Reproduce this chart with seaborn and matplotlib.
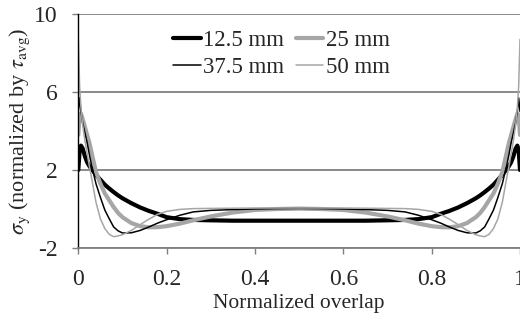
import numpy as np
import pandas as pd
import matplotlib
matplotlib.use("Agg")
import matplotlib.pyplot as plt
import seaborn as sns

# ---- data ----
x_pos = [0, 0.003, 0.006, 0.01, 0.015, 0.02, 0.025, 0.03, 0.04, 0.05, 0.06, 0.07,
         0.08, 0.09, 0.1, 0.12, 0.14, 0.16, 0.18, 0.2, 0.23, 0.26, 0.3, 0.35, 0.4,
         0.45, 0.5,
         0.55, 0.6, 0.65, 0.7, 0.74, 0.77, 0.8, 0.82, 0.84, 0.86, 0.88, 0.9, 0.91,
         0.92, 0.93, 0.94, 0.95, 0.96, 0.97, 0.975, 0.98, 0.985, 0.99, 0.994,
         0.997, 1.0]

s_125 = [2.0, 3.0, 3.25, 3.1, 2.7, 2.4, 2.2, 2.05, 1.75, 1.5, 1.25, 1.05,
         0.87, 0.7, 0.55, 0.3, 0.08, -0.1, -0.25, -0.42, -0.52, -0.56, -0.58, -0.6, -0.6,
         -0.6, -0.6,
         -0.6, -0.6, -0.6, -0.58, -0.56, -0.52, -0.42, -0.25, -0.1, 0.08, 0.3, 0.55, 0.7,
         0.87, 1.05, 1.25, 1.5, 1.75, 2.05, 2.2, 2.4, 2.7, 3.1, 3.25,
         3.0, 2.0]

s_25 = [3.8, 4.8, 4.9, 4.6, 4.2, 3.8, 3.4, 2.9, 1.9, 1.3, 0.8, 0.45,
        0.1, -0.2, -0.42, -0.72, -0.88, -0.94, -0.93, -0.88, -0.75, -0.58, -0.38, -0.18, -0.05,
        0.0, 0.02,
        0.0, -0.05, -0.18, -0.38, -0.58, -0.75, -0.88, -0.93, -0.94, -0.88, -0.72, -0.42, -0.2,
        0.1, 0.45, 0.8, 1.3, 1.9, 2.9, 3.4, 3.8, 4.2, 4.6, 4.9,
        4.8, 3.8]

s_375 = [5.0, 5.7, 5.0, 4.4, 3.9, 3.4, 2.8, 2.25, 1.3, 0.6, -0.05, -0.5,
         -0.92, -1.12, -1.23, -1.22, -1.1, -0.92, -0.72, -0.55, -0.32, -0.15, -0.07, -0.03, 0.0,
         0.02, 0.03,
         0.02, 0.0, -0.03, -0.07, -0.15, -0.32, -0.55, -0.72, -0.92, -1.1, -1.22, -1.23, -1.12,
         -0.92, -0.5, -0.05, 0.6, 1.3, 2.25, 2.8, 3.4, 3.9, 4.4, 5.0,
         5.7, 5.0]

s_50 = [8.7, 6.3, 5.2, 4.3, 3.5, 2.85, 2.2, 1.6, 0.35, -0.5, -1.0, -1.3,
        -1.42, -1.38, -1.32, -1.1, -0.8, -0.52, -0.27, -0.12, -0.02, 0.02, 0.03, 0.04, 0.05,
        0.05, 0.05,
        0.05, 0.05, 0.04, 0.03, 0.02, -0.02, -0.12, -0.27, -0.52, -0.8, -1.1, -1.32, -1.38,
        -1.42, -1.3, -1.0, -0.5, 0.35, 1.6, 2.2, 2.85, 3.5, 4.3, 5.2,
        6.3, 8.7]

series_labels = ["12.5 mm", "25 mm", "37.5 mm", "50 mm"]
series_values = [s_125, s_25, s_375, s_50]
x_ticks = [0, 0.2, 0.4, 0.6, 0.8, 1.0]
x_ticklabels = ["0", "0.2", "0.4", "0.6", "0.8", "1"]
y_ticks = [-2, 2, 6, 10]
y_ticklabels = ["-2", "2", "6", "10"]

# ---- style ----
sns.set_theme(style="white")
plt.rcParams["font.family"] = ["Liberation Serif", "DejaVu Serif"]
plt.rcParams["mathtext.fontset"] = "stix"
plt.rcParams["axes.unicode_minus"] = False

colors = ["#000000", "#a6a6a6", "#000000", "#a6a6a6"]
widths = [3.0, 3.0, 1.1, 1.1]

fig = plt.figure(figsize=(5.2, 3.22), dpi=100)
ax = fig.add_axes([78.3 / 520, 1 - 248 / 322, 1 - 78.3 / 520, (248 - 14) / 322])

for lab, vals, c, w in zip(series_labels, series_values, colors, widths):
    df = pd.DataFrame({"x": x_pos, "y": vals})
    sns.lineplot(data=df, x="x", y="y", ax=ax, color=c, linewidth=w,
                 label=lab, sort=False, estimator=None)

ax.set_xlim(0, 1)
ax.set_ylim(-2, 10)
ax.set_xticks(x_ticks)
ax.set_xticklabels(x_ticklabels, family=["Liberation Serif"])
ax.set_yticks(y_ticks)
ax.set_yticklabels(y_ticklabels, family=["Liberation Serif"])

ax.yaxis.grid(True, color="#808080", linewidth=1.3)
ax.xaxis.grid(False)
ax.set_axisbelow(True)

for s in ["top", "right"]:
    ax.spines[s].set_visible(False)
ax.spines["bottom"].set_color("#808080")
ax.spines["bottom"].set_linewidth(1.3)
ax.spines["left"].set_color("#000000")
ax.spines["left"].set_linewidth(1.0)

ax.tick_params(axis="x", direction="out", length=4, width=1, color="#808080",
               labelsize=17, pad=11, bottom=True)
ax.tick_params(axis="y", direction="out", length=4, width=1, color="#808080",
               labelsize=17, pad=11, left=True)

ax.set_xlabel("Normalized overlap", fontsize=15.5, labelpad=3)
ax.set_ylabel(r"$\sigma_\mathrm{y}$ (normalized by $\tau_\mathrm{avg}$)", fontsize=16, labelpad=1)

handles, labels = ax.get_legend_handles_labels()
order = [0, 2, 1, 3]
ax.legend([handles[i] for i in order], [labels[i] for i in order],
          loc="center", bbox_to_anchor=(281.5 / 520, 1 - 54 / 322),
          bbox_transform=fig.transFigure, ncol=2, frameon=False,
          fontsize=16.5, handlelength=1.2, handletextpad=0.1,
          columnspacing=0.5, labelspacing=0.3, borderpad=0)

fig.savefig("out.png", dpi=100)
